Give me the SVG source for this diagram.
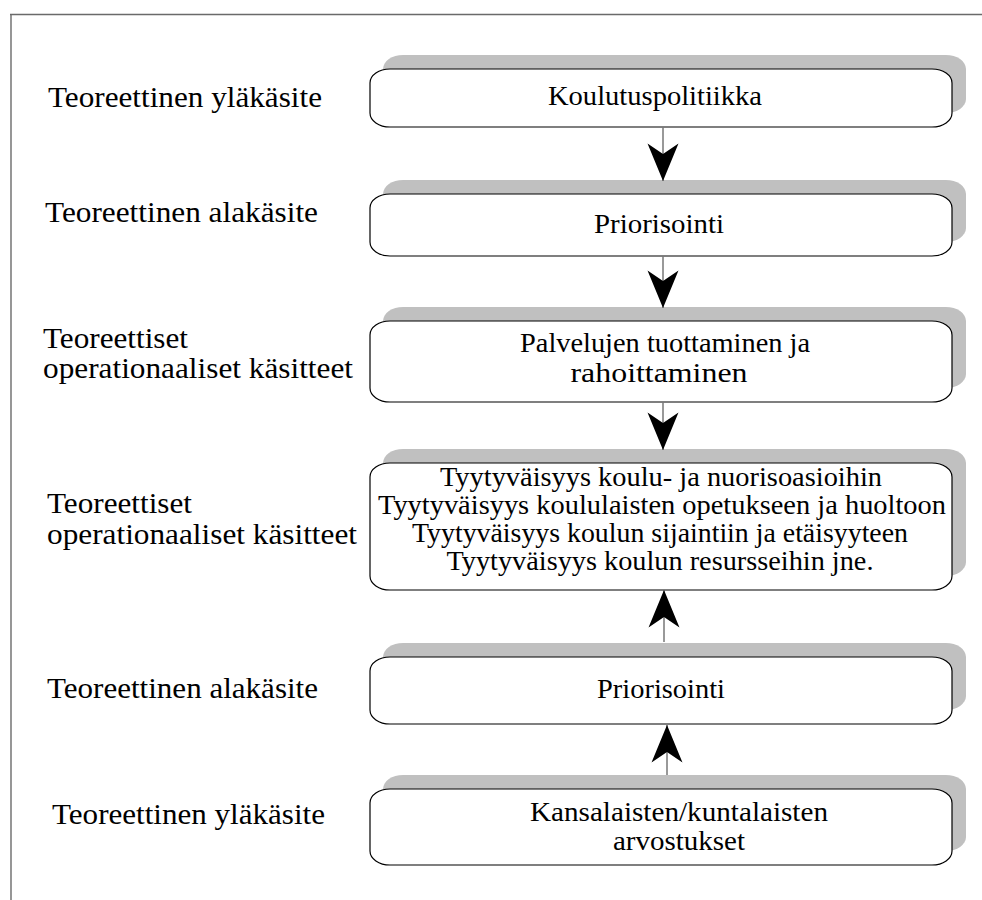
<svg xmlns="http://www.w3.org/2000/svg" width="982" height="900" viewBox="0 0 982 900">
<defs>
<style>
.frame{stroke:#6a6a6a;stroke-width:1.4;fill:none}
.shadow{fill:#c0c0c0;stroke:none}
.box{fill:#ffffff;stroke:#000000;stroke-width:1.2}
.lbl{font-family:"Liberation Serif","Times New Roman",serif;font-size:30px;fill:#000}
.txt{font-family:"Liberation Serif","Times New Roman",serif;font-size:28px;fill:#000;text-anchor:middle}
.shaft{stroke:#777777;stroke-width:1.5;fill:none}
</style>
<marker id="head" markerUnits="userSpaceOnUse" markerWidth="40" markerHeight="40" refX="0" refY="0" viewBox="-30 -13 31 26" orient="auto" overflow="visible">
<path d="M0,0 L-29,-12 L-21,0 L-29,12 Z" fill="#000"/>
</marker>
</defs>
<rect width="982" height="900" fill="#ffffff"/>
<g id="frame">
<line class="frame" x1="10" y1="14.5" x2="982" y2="14.5"/>
<line class="frame" x1="11" y1="14" x2="11" y2="900"/>
</g>
<g id="labels">
<text class="lbl" x="48" y="107" textLength="274" lengthAdjust="spacingAndGlyphs">Teoreettinen yläkäsite</text>
<text class="lbl" x="45" y="222" textLength="273" lengthAdjust="spacingAndGlyphs">Teoreettinen alakäsite</text>
<text class="lbl" x="43" y="348" textLength="145" lengthAdjust="spacingAndGlyphs">Teoreettiset</text>
<text class="lbl" x="43" y="378" textLength="310" lengthAdjust="spacingAndGlyphs">operationaaliset käsitteet</text>
<text class="lbl" x="47" y="513" textLength="145" lengthAdjust="spacingAndGlyphs">Teoreettiset</text>
<text class="lbl" x="47" y="544" textLength="310" lengthAdjust="spacingAndGlyphs">operationaaliset käsitteet</text>
<text class="lbl" x="47" y="698" textLength="271" lengthAdjust="spacingAndGlyphs">Teoreettinen alakäsite</text>
<text class="lbl" x="52" y="824" textLength="273" lengthAdjust="spacingAndGlyphs">Teoreettinen yläkäsite</text>
</g>
<g id="node1">
<rect class="shadow" x="383" y="55" width="583" height="58" rx="20" ry="14"/>
<rect class="box" x="370" y="69" width="582" height="58" rx="20" ry="14"/>
<text class="txt" x="655" y="105" textLength="214" lengthAdjust="spacingAndGlyphs">Koulutuspolitiikka</text>
</g>
<g id="node2">
<rect class="shadow" x="383" y="180" width="583" height="62" rx="20" ry="14"/>
<rect class="box" x="370" y="194" width="582" height="62" rx="20" ry="14"/>
<text class="txt" x="659" y="233" textLength="130" lengthAdjust="spacingAndGlyphs">Priorisointi</text>
</g>
<g id="node3">
<rect class="shadow" x="383" y="307" width="583" height="81" rx="20" ry="14"/>
<rect class="box" x="370" y="321" width="582" height="81" rx="20" ry="14"/>
<text class="txt" x="665" y="352" textLength="290" lengthAdjust="spacingAndGlyphs">Palvelujen tuottaminen ja</text>
<text class="txt" x="659" y="382" textLength="177" lengthAdjust="spacingAndGlyphs">rahoittaminen</text>
</g>
<g id="node4">
<rect class="shadow" x="383" y="449" width="583" height="127" rx="20" ry="14"/>
<rect class="box" x="370" y="463" width="582" height="127" rx="20" ry="14"/>
<text class="txt" x="661" y="486" textLength="442" lengthAdjust="spacingAndGlyphs">Tyytyväisyys koulu- ja nuorisoasioihin</text>
<text class="txt" x="662" y="514" textLength="568" lengthAdjust="spacingAndGlyphs">Tyytyväisyys koululaisten opetukseen ja huoltoon</text>
<text class="txt" x="660" y="542" textLength="496" lengthAdjust="spacingAndGlyphs">Tyytyväisyys koulun sijaintiin ja etäisyyteen</text>
<text class="txt" x="660" y="570" textLength="427" lengthAdjust="spacingAndGlyphs">Tyytyväisyys koulun resursseihin jne.</text>
</g>
<g id="node5">
<rect class="shadow" x="383" y="643" width="583" height="67" rx="20" ry="14"/>
<rect class="box" x="370" y="657" width="582" height="67" rx="20" ry="14"/>
<text class="txt" x="661" y="698" textLength="128" lengthAdjust="spacingAndGlyphs">Priorisointi</text>
</g>
<g id="node6">
<rect class="shadow" x="383" y="775" width="583" height="76" rx="20" ry="14"/>
<rect class="box" x="370" y="789" width="582" height="76" rx="20" ry="14"/>
<text class="txt" x="679" y="821" textLength="298" lengthAdjust="spacingAndGlyphs">Kansalaisten/kuntalaisten</text>
<text class="txt" x="679" y="850" textLength="132" lengthAdjust="spacingAndGlyphs">arvostukset</text>
</g>
<g id="connectors">
<line class="shaft" x1="663" y1="127" x2="663" y2="181" marker-end="url(#head)"/>
<line class="shaft" x1="663" y1="256" x2="663" y2="308" marker-end="url(#head)"/>
<line class="shaft" x1="663" y1="402" x2="663" y2="450" marker-end="url(#head)"/>
<line class="shaft" x1="664" y1="642" x2="664" y2="590" marker-end="url(#head)"/>
<line class="shaft" x1="667" y1="775" x2="667" y2="725" marker-end="url(#head)"/>
</g>
</svg>
